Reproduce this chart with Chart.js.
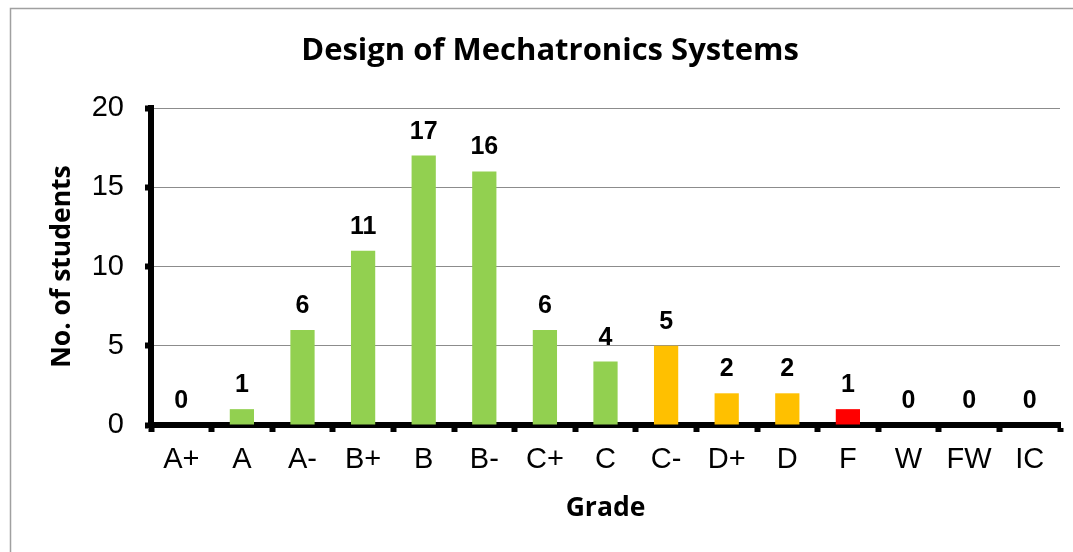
<!DOCTYPE html>
<html>
<head>
<meta charset="utf-8">
<script src="https://cdn.jsdelivr.net/npm/chart.js@4"></script>
<style>
  html, body { margin: 0; padding: 0; background: #fff; }
  #wrap { width: 1073px; height: 552px; }
</style>
</head>
<body>
<div id="wrap"><canvas id="chart" width="1073" height="552"></canvas></div>
<script>
// Données du graphique
const grades = ['A+', 'A', 'A-', 'B+', 'B', 'B-', 'C+', 'C', 'C-', 'D+', 'D', 'F', 'W', 'FW', 'IC'];
const students = [0, 1, 6, 11, 17, 16, 6, 4, 5, 2, 2, 1, 0, 0, 0];
const barColors = ['#92D050', '#92D050', '#92D050', '#92D050', '#92D050', '#92D050', '#92D050', '#92D050',
                   '#FFC000', '#FFC000', '#FFC000', '#FF0000', '#92D050', '#92D050', '#92D050'];
const yMin = 0;
const yMax = 20;
const yStep = 5;

const chartTitle = 'Design of Mechatronics Systems';
const xTitle = 'Grade';
const yTitle = 'No. of students';

const tickFont = { family: '"Liberation Sans", Arial, sans-serif', size: 29 };
const boldTitleFont = '"Open Sans", "Noto Sans", sans-serif';

// Cadre extérieur + titre principal
const framePlugin = {
    id: 'frame',
    beforeDraw(chart) {
        const ctx = chart.ctx;
        ctx.save();
        ctx.fillStyle = '#fff';
        ctx.fillRect(0, 0, chart.width, chart.height);
        ctx.strokeStyle = '#a0a0a0';
        ctx.lineWidth = 1.5;
        ctx.strokeRect(10.5, 8.5, 1100, 600);
        ctx.restore();
    },
    afterDraw(chart) {
        const ctx = chart.ctx;
        ctx.save();
        ctx.fillStyle = '#000';
        ctx.font = 'bold 31px ' + boldTitleFont;
        ctx.textAlign = 'center';
        ctx.textBaseline = 'alphabetic';
        ctx.fillText(chartTitle, 550, 60);
        ctx.restore();
    }
};

// Étiquettes de valeurs au-dessus des barres
const valueLabels = {
    id: 'valueLabels',
    afterDatasetsDraw(chart) {
        const ctx = chart.ctx;
        const meta = chart.getDatasetMeta(0);
        ctx.save();
        ctx.fillStyle = '#000';
        ctx.font = 'bold 25px "Liberation Sans", Arial, sans-serif';
        ctx.textAlign = 'center';
        ctx.textBaseline = 'alphabetic';
        meta.data.forEach((bar, i) => {
            ctx.fillText(String(students[i]), bar.x, bar.y - 17);
        });
        ctx.restore();
    }
};

const ctx = document.getElementById('chart').getContext('2d');
new Chart(ctx, {
    type: 'bar',
    data: {
        labels: grades,
        datasets: [{
            data: students,
            backgroundColor: barColors,
            borderWidth: 0,
            barPercentage: 0.4,
            categoryPercentage: 1.0
        }]
    },
    options: {
        responsive: false,
        animation: false,
        devicePixelRatio: 1,
        layout: { padding: { left: 0, right: 13, top: 108, bottom: 0 } },
        plugins: {
            legend: { display: false },
            tooltip: { enabled: false }
        },
        scales: {
            x: {
                grid: {
                    offset: true,
                    drawOnChartArea: false,
                    drawTicks: true,
                    tickLength: 7,
                    tickWidth: 6,
                    tickColor: '#000'
                },
                border: { display: true, color: '#000', width: 6 },
                ticks: { font: tickFont, color: '#000', padding: 11, maxRotation: 0, autoSkip: false },
                title: {
                    display: true,
                    text: xTitle,
                    color: '#000',
                    font: { family: boldTitleFont, size: 26.5, weight: 'bold' },
                    padding: { top: 0, bottom: 28 }
                },
                afterFit(scale) { scale.height = 552 - 425; }
            },
            y: {
                min: yMin,
                max: yMax,
                ticks: { stepSize: yStep, font: tickFont, color: '#000', padding: 21 },
                grid: {
                    color: '#8c8c8c',
                    lineWidth: 1,
                    drawTicks: true,
                    tickLength: 6,
                    tickWidth: 6,
                    tickColor: '#000'
                },
                border: { display: true, color: '#000', width: 6 },
                title: {
                    display: true,
                    text: yTitle,
                    color: '#000',
                    font: { family: boldTitleFont, size: 26.5, weight: 'bold' },
                    padding: { top: 47, bottom: 0 }
                },
                afterFit(scale) { scale.width = 151; }
            }
        }
    },
    plugins: [framePlugin, valueLabels]
});
</script>
</body>
</html>
